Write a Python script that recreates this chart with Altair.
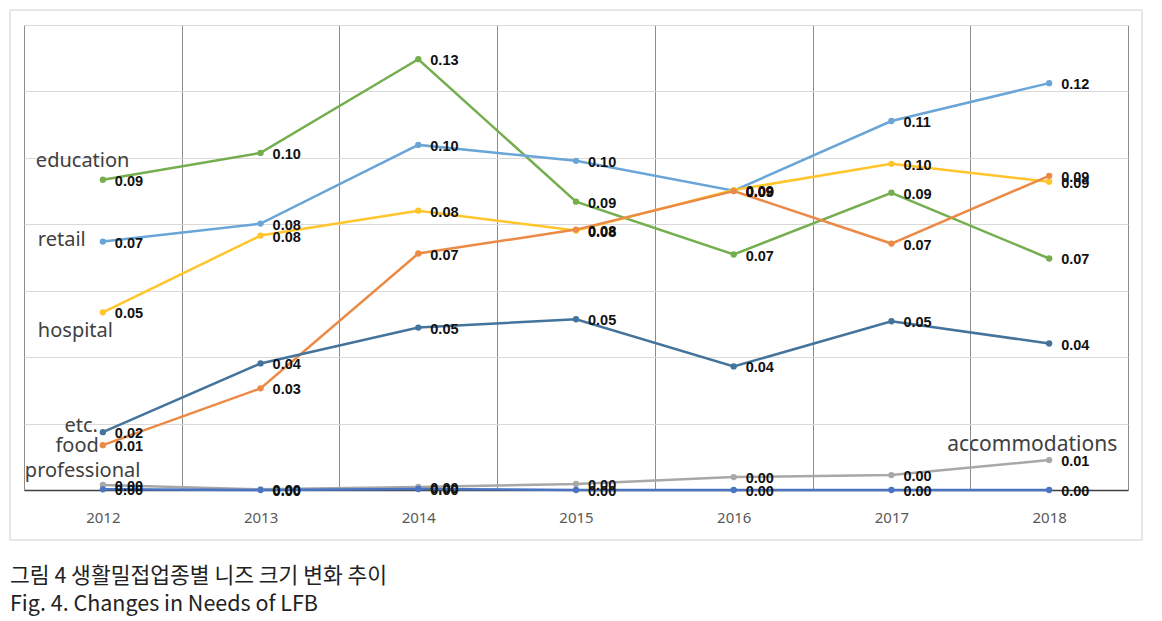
import altair as alt
import pandas as pd

years = ["2012", "2013", "2014", "2015", "2016", "2017", "2018"]
series_names = ["education", "retail", "hospital", "food", "etc.", "accommodations", "professional"]
education = [0.0934, 0.1015, 0.1297, 0.0868, 0.0709, 0.0895, 0.0697]
retail = [0.0748, 0.0802, 0.1039, 0.0991, 0.0901, 0.1111, 0.1225]
hospital = [0.0535, 0.0766, 0.0841, 0.0781, 0.0903, 0.0982, 0.0928]
food = [0.0135, 0.0306, 0.0712, 0.0784, 0.0900, 0.0742, 0.0946]
etc = [0.0174, 0.0381, 0.0489, 0.0514, 0.0372, 0.0508, 0.0441]
accommodations = [0.0015, 0.0002, 0.0009, 0.0018, 0.0039, 0.0045, 0.0090]
professional = [0.0002, 0.0000, 0.0003, 0.0000, 0.0000, 0.0000, 0.0000]
colors = ["#74AE4E", "#6AA5D8", "#FFC52A", "#EC8A45", "#44739C", "#A8A8A8", "#4A74C2"]
caption_ko = "그림 4 생활밀접업종별 니즈 크기 변화 추이"
caption_en = "Fig. 4. Changes in Needs of LFB"

values = [education, retail, hospital, food, etc, accommodations, professional]
rows = []
for name, vals in zip(series_names, values):
    for yr, v in zip(years, vals):
        rows.append({"year": yr, "value": v, "series": name})
df = pd.DataFrame(rows)

x = alt.X("year:N", sort=years, title=None,
          scale=alt.Scale(paddingInner=0, paddingOuter=0),
          axis=alt.Axis(tickBand="extent", grid=True, gridColor="#8c8c8c", gridWidth=1,
                        ticks=False, domain=True, domainColor="#404040", domainWidth=1.5,
                        labelAngle=0, labelColor="#595959", labelFont="Noto Sans",
                        labelFontSize=15, labelPadding=20))
y = alt.Y("value:Q", title=None,
          scale=alt.Scale(domain=[0, 0.14], nice=False),
          axis=alt.Axis(values=[0, 0.02, 0.04, 0.06, 0.08, 0.1, 0.12, 0.14], labels=False,
                        ticks=False, domain=False, grid=True, gridColor="#d9d9d9", gridWidth=1))
color = alt.Color("series:N", scale=alt.Scale(domain=series_names, range=colors), legend=None)

base = alt.Chart(df)
lines = base.mark_line(strokeWidth=2.5).encode(x=x, y=y, color=color, detail="series:N")
points = base.mark_circle(size=40, opacity=1).encode(x=x, y=y, color=color)
labels = base.mark_text(align="left", baseline="middle", dx=12, dy=2, font="Liberation Sans",
                        fontSize=14.5, fontWeight="bold", color="#111111").encode(
    x=x, y=y, text=alt.Text("value:Q", format=".2f"))


def name_label(name, year_idx, align, dx, dy, size=20):
    vals = values[series_names.index(name)]
    d = pd.DataFrame({"year": [years[year_idx]], "value": [vals[year_idx]], "series": [name]})
    return alt.Chart(d).mark_text(align=align, baseline="middle", dx=dx, dy=dy, font="Noto Sans",
                                  fontSize=size, color="#404040").encode(x=x, y=y, text="series:N")


names = (name_label("education", 0, "left", -67, -19)
         + name_label("retail", 0, "left", -65, -2)
         + name_label("hospital", 0, "left", -65, 19)
         + name_label("etc.", 0, "right", -5, -6)
         + name_label("food", 0, "right", -4, 1)
         + name_label("professional", 0, "left", -78, -18)
         + name_label("accommodations", 6, "left", -102, -15, 21))

frame = alt.Chart(pd.DataFrame({"a": [0]})).mark_rect(fill=None, stroke="#d0d0d0", strokeWidth=1).encode(
    x=alt.value(-14), x2=alt.value(1118), y=alt.value(-15), y2=alt.value(515))

cap_df = pd.DataFrame({"t": [caption_ko]})
cap1 = alt.Chart(cap_df).mark_text(align="left", baseline="middle", font="Noto Sans CJK KR",
                                   fontSize=21.5, color="#222222").encode(
    x=alt.value(-14), y=alt.value(552), text="t:N")
cap_df2 = pd.DataFrame({"t": [caption_en]})
cap2 = alt.Chart(cap_df2).mark_text(align="left", baseline="middle", font="Noto Sans CJK KR",
                                    fontSize=21.5, color="#222222").encode(
    x=alt.value(-14), y=alt.value(580), text="t:N")

chart = alt.layer(frame, lines, points, labels, names, cap1, cap2).properties(
    width=1104, height=465,
    autosize=alt.AutoSizeParams(type="none"),
    padding={"left": 16, "top": 17, "right": 26, "bottom": 130},
).configure_view(stroke=None).configure(background="white")

chart.save("out.html", embed_options={"renderer": "svg", "actions": False})
